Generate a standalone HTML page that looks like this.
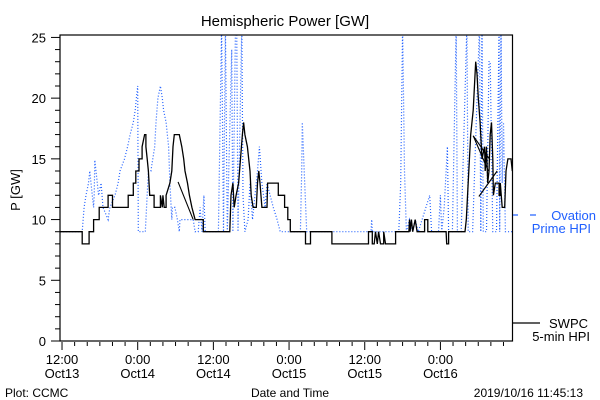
<!DOCTYPE html>
<html><head><meta charset="utf-8">
<style>
html,body{margin:0;padding:0;background:#fff;}
svg{display:block;font-family:"Liberation Sans","DejaVu Sans",sans-serif;}
</style></head>
<body>
<svg id="chart" width="600" height="400" viewBox="0 0 600 400">
  <rect x="0" y="0" width="600" height="400" fill="#fff"/>
  <text x="285" y="26" font-size="15" text-anchor="middle">Hemispheric Power [GW]</text>
  <text transform="translate(20,190) rotate(-90)" font-size="13" text-anchor="middle">P [GW]</text>
  <text x="290" y="397" font-size="12" text-anchor="middle">Date and Time</text>
  <text x="5" y="397" font-size="12">Plot: CCMC</text>
  <text x="583" y="397" font-size="12" text-anchor="end">2019/10/16 11:45:13</text>
  <defs><clipPath id="pc"><rect x="60" y="35" width="452.5" height="306"/></clipPath></defs>
  <g id="ticks"></g>
  <g id="series" clip-path="url(#pc)"></g>
  <rect x="60" y="35" width="452.5" height="306" fill="none" stroke="#000" stroke-width="1.2"/>
  <g>
    <line x1="513" y1="215" x2="518" y2="215" stroke="#1f5fff" stroke-width="1.2"/>
    <line x1="530" y1="215" x2="536" y2="215" stroke="#1f5fff" stroke-width="1.2"/>
    <text x="596" y="220" font-size="13" fill="#1f5fff" text-anchor="end">Ovation</text>
    <text x="591" y="233" font-size="13" fill="#1f5fff" text-anchor="end">Prime HPI</text>
  </g>
  <g>
    <line x1="513" y1="323" x2="540" y2="323" stroke="#000" stroke-width="1.2"/>
    <text x="588" y="328" font-size="13" text-anchor="end">SWPC</text>
    <text x="590" y="341" font-size="13" text-anchor="end">5-min HPI</text>
  </g>
</svg>
<script>
// hours since 2019-10-13 12:00
const xDomain = [-0.32, 71.43];
const yDomain = [0, 25.2];
const yTickValues = [0, 5, 10, 15, 20, 25];
const xTickHours = [0, 12, 24, 36, 48, 60];
const xTickTop = ["12:00", "0:00", "12:00", "0:00", "12:00", "0:00"];
const xTickBottom = ["Oct13", "Oct14", "Oct14", "Oct15", "Oct15", "Oct16"];

const swpcT = [-0.3,3.2,3.2,4.3,4.3,5.0,5.0,5.9,5.9,7.3,7.3,8.0,8.0,10.5,10.5,11.3,11.3,11.7,11.7,12.2,12.2,12.7,12.7,13.1,13.3,13.3,13.5,13.7,13.9,14.6,14.6,15.6,15.6,15.9,16.0,16.2,16.5,16.5,17.1,17.4,17.6,17.8,18.6,19.0,19.3,19.5,19.9,20.2,20.6,21.1,22.4,22.4,26.6,26.8,27.1,27.3,27.6,28.0,28.6,28.8,29.0,29.4,29.6,29.8,30.0,30.3,30.8,31.0,31.2,31.4,31.7,32.5,32.6,34.3,34.3,35.3,35.3,35.8,35.8,36.2,36.2,38.6,38.6,39.4,39.4,42.8,42.8,48.6,48.6,49.2,49.2,49.5,49.7,50.0,50.2,50.5,51.0,51.0,51.3,52.9,52.9,55.0,55.1,55.2,55.4,55.6,56.0,56.3,57.5,57.5,58.0,58.0,60.9,61.0,61.3,61.3,63.9,64.1,64.5,64.8,65.2,65.6,65.8,66.0,66.3,66.6,67.0,67.1,67.3,67.5,67.7,67.9,68.1,68.3,68.4,68.7,69.3,69.3,69.5,69.5,69.8,70.2,70.4,70.7,71.2,71.4];
const swpcV = [9,9,8,8,9,9,10,10,11,11,12,12,11,11,12,12,13,13,14,14,15,15,16,17,17,16,15,14,12,12,11,11,12,11,12,11,11,12,13,14,16,17,17,16,15,14,13,12,11,10,10,9,9,12,13,11,12,13,17,18,17,16,15,14,12,11,11,13,14,13,11,11,13,13,12,12,11,11,10,10,9,9,8,8,9,9,8,8,9,9,8,8,9,8,9,8,8,9,8,8,9,9,10,9,10,9,10,9,9,10,10,9,9,8,8,9,9,10,14,17,19,23,22,20,18,15,16,14,16,13,14,17,18,15,12,13,13,12,12,13,11,11,14,15,15,14];
// backward-in-time glitch segments of SWPC series
const glitchT0 = [18.4, 65.2, 65.2, 66.1];
const glitchV0 = [13.1, 16.9, 16.9, 11.9];
const glitchT1 = [20.8, 67.6, 67.9, 69.0];
const glitchV1 = [10.0, 14.0, 14.9, 14.0];

const ovT = [-0.3,3.2,3.5,3.8,4.2,4.4,4.6,4.8,5.0,5.1,5.2,5.6,5.8,6.2,6.5,7.3,7.6,8.4,8.9,9.2,9.9,10.4,10.8,11.3,11.6,11.8,12.0,12.1,13.2,13.7,14.1,14.7,14.9,15.2,15.6,15.9,16.1,16.5,16.9,17.1,17.4,17.5,17.9,18.3,18.6,18.7,20.8,21.1,21.6,21.9,22.2,22.5,22.7,24.8,25.3,25.6,25.9,26.2,26.9,27.1,27.5,27.7,27.9,28.5,28.7,29.0,29.5,29.8,30.2,30.6,31.0,31.3,31.7,32.2,32.5,33.0,33.5,34.1,34.6,37.8,38.0,38.1,38.4,38.8,49.0,49.1,49.2,53.4,53.7,54.0,54.3,54.6,55.1,55.6,56.0,56.5,58.3,58.6,59.7,60.0,60.2,60.6,61.1,61.3,61.9,62.5,62.7,63.3,64.2,64.4,65.1,66.2,66.4,66.6,66.8,67.3,67.7,67.9,68.3,68.9,69.3,69.4,69.6,69.8,70.0,70.3,71.4];
const ovV = [9,9,11,12,13,14,13,12,11,12,14.9,13,12,13,11,10,11,12,13,14,15,16,17,18,19,20,21,9,9,14,14,16,18,20,21,20,19,18,16,13,10,11,11,10,9,10,10,9,9,11,9,12,9,9,26,9,26,9,24,9,26,26,9,26,12,9,10,13,10,12,14,16,13,11,13,12,11,10,9,9,14,18,14,9,9,10,9,9,13,26,14,9,10,9,10,9,12,9,9,12,9,11,16,9,9,26,9,9,26,9,9,26,9,26,9,9,23,23,9,9,26,9,26,13,18,9,9];

const NS = "http://www.w3.org/2000/svg";
const PL = 60, PR = 512.5, PT = 35, PB = 341;
function xs(t){ return PL + (t - xDomain[0]) / (xDomain[1] - xDomain[0]) * (PR - PL); }
function ys(v){ return PB - (v - yDomain[0]) / (yDomain[1] - yDomain[0]) * (PB - PT); }
function mk(tag, attrs, parent){ const e = document.createElementNS(NS, tag); for (const k in attrs) e.setAttribute(k, attrs[k]); parent.appendChild(e); return e; }

const ticks = document.getElementById("ticks");
// y ticks
for (let v = 0; v <= 25; v++) {
  const major = v % 5 === 0;
  const t = mk("line", {x1: major ? 51 : 55, x2: 60, y1: ys(v), y2: ys(v), stroke: "#000", "stroke-width": 1}, ticks);
  
  
}
yTickValues.forEach(v => {
  const t = mk("text", {x: 46, y: ys(v) + 5, "font-size": 13, "text-anchor": "end"}, ticks);
  t.textContent = v;
  
  
});
// x ticks every 2h
for (let h = 0; h <= 70; h += 2) {
  const major = h % 12 === 0;
  const t = mk("line", {x1: xs(h), x2: xs(h), y1: PB + 1, y2: PB + (major ? 9 : 5), stroke: "#000", "stroke-width": 1}, ticks);
  
  
}
xTickHours.forEach((h, i) => {
  const a = mk("text", {x: xs(h), y: 364, "font-size": 13, "text-anchor": "middle"}, ticks);
  a.textContent = xTickTop[i];
  
  
  const b = mk("text", {x: xs(h), y: 378, "font-size": 13, "text-anchor": "middle"}, ticks);
  b.textContent = xTickBottom[i];
  
  
});

const series = document.getElementById("series");
const ovPts = ovT.map((t, i) => xs(t).toFixed(1) + "," + ys(ovV[i]).toFixed(1)).join(" ");
const ov = mk("polyline", {points: ovPts, fill: "none", stroke: "#1f5fff", "stroke-width": 1.2, "stroke-dasharray": "1 2"}, series);



const swPts = swpcT.map((t, i) => xs(t).toFixed(1) + "," + ys(swpcV[i]).toFixed(1)).join(" ");
const sw = mk("polyline", {points: swPts, fill: "none", stroke: "#000", "stroke-width": 1.3}, series);



glitchT0.forEach((t, i) => {
  const g = mk("line", {x1: xs(t), y1: ys(glitchV0[i]), x2: xs(glitchT1[i]), y2: ys(glitchV1[i]), stroke: "#000", "stroke-width": 1.1}, series);
  
  
});
</script>
</body></html>
